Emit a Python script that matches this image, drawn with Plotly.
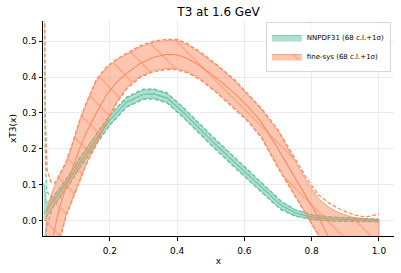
import plotly.graph_objects as go

# ---------------- data ----------------
nn_x = [0.004, 0.008, 0.012, 0.03, 0.05, 0.08, 0.11, 0.15, 0.2, 0.25, 0.3, 0.33, 0.37, 0.42,
        0.47, 0.52, 0.56, 0.6, 0.65, 0.69, 0.71, 0.75, 0.8, 0.85, 0.9, 0.95, 1.0]
nn_cv = [0.02, 0.025, 0.03, 0.05, 0.075, 0.115, 0.16, 0.215, 0.28, 0.33, 0.352, 0.353, 0.342, 0.3,
         0.253, 0.207, 0.172, 0.137, 0.093, 0.06, 0.042, 0.022, 0.01, 0.005, 0.003, 0.002, 0.001]
nn_up68 = [0.105, 0.075, 0.05, 0.063, 0.087, 0.127, 0.172, 0.227, 0.292, 0.342, 0.364, 0.365, 0.354, 0.312,
           0.265, 0.219, 0.184, 0.149, 0.105, 0.072, 0.052, 0.03, 0.016, 0.01, 0.007, 0.005, 0.004]
nn_lo68 = [0.0, 0.0, 0.01, 0.038, 0.063, 0.103, 0.148, 0.203, 0.268, 0.318, 0.34, 0.341, 0.33, 0.288,
           0.241, 0.195, 0.16, 0.125, 0.081, 0.048, 0.032, 0.014, 0.004, 0.0, -0.001, -0.001, -0.002]
nn_up1s = [1.0, 0.2, 0.08, 0.065, 0.089, 0.129, 0.174, 0.229, 0.294, 0.344, 0.366, 0.367, 0.356, 0.314,
           0.267, 0.221, 0.186, 0.151, 0.107, 0.074, 0.054, 0.031, 0.017, 0.011, 0.008, 0.006, 0.005]
nn_lo1s = [-1.0, -0.1, -0.02, 0.036, 0.061, 0.101, 0.146, 0.201, 0.266, 0.316, 0.338, 0.339, 0.328, 0.286,
           0.239, 0.193, 0.158, 0.123, 0.079, 0.046, 0.03, 0.013, 0.003, -0.001, -0.002, -0.002, -0.003]

fs_x = [0.004, 0.008, 0.014, 0.025, 0.037, 0.05, 0.07, 0.09, 0.11, 0.13, 0.16, 0.19, 0.22, 0.25,
        0.29, 0.33, 0.37, 0.4, 0.43, 0.47, 0.52, 0.57, 0.61, 0.65, 0.7, 0.75, 0.785, 0.82, 0.85,
        0.88, 0.92, 0.96, 1.0]
fs_cv = [-0.35, -0.25, -0.16, -0.07, -0.015, 0.035, 0.095, 0.15, 0.2, 0.245, 0.3, 0.35, 0.385, 0.41,
         0.438, 0.455, 0.463, 0.462, 0.452, 0.43, 0.395, 0.355, 0.318, 0.275, 0.2, 0.12, 0.065, 0.01,
         -0.045, -0.08, -0.11, -0.13, -0.15]
fs_up68 = [-0.12, -0.04, 0.035, 0.07, 0.1, 0.125, 0.16, 0.215, 0.275, 0.325, 0.39, 0.425, 0.447, 0.463,
           0.484, 0.497, 0.502, 0.502, 0.49, 0.466, 0.43, 0.39, 0.35, 0.31, 0.25, 0.17, 0.11, 0.062,
           0.038, 0.022, 0.01, 0.005, 0.002]
fs_lo68 = [-0.6, -0.5, -0.38, -0.22, -0.12, -0.05, 0.015, 0.065, 0.11, 0.16, 0.215, 0.275, 0.33, 0.37,
           0.402, 0.418, 0.424, 0.423, 0.415, 0.395, 0.357, 0.315, 0.28, 0.235, 0.15, 0.072, 0.015,
           -0.04, -0.09, -0.13, -0.17, -0.21, -0.25]
fs_up1s = [1.0, 0.3, 0.14, 0.108, 0.105, 0.127, 0.163, 0.218, 0.278, 0.328, 0.393, 0.428, 0.45, 0.466,
           0.487, 0.5, 0.505, 0.505, 0.493, 0.469, 0.433, 0.393, 0.353, 0.313, 0.253, 0.175, 0.118,
           0.072, 0.05, 0.034, 0.018, 0.01, 0.018]
fs_lo1s = [-1.0, -0.8, -0.5, -0.3, -0.16, -0.06, 0.012, 0.062, 0.107, 0.157, 0.212, 0.272, 0.327, 0.367,
           0.399, 0.415, 0.421, 0.42, 0.412, 0.392, 0.354, 0.312, 0.277, 0.232, 0.147, 0.069, 0.012,
           -0.043, -0.093, -0.133, -0.173, -0.213, -0.253]

x_ticks = [0.2, 0.4, 0.6, 0.8, 1.0]
y_ticks = [0.0, 0.1, 0.2, 0.3, 0.4, 0.5]

series = [
    dict(name="NNPDF31 (68 c.l.+1σ)", x=nn_x, cv=nn_cv, up=nn_up68, lo=nn_lo68, u1=nn_up1s, l1=nn_lo1s,
         color="#66c2a5", fill="rgba(102,194,165,0.5)", shape="/", size=5),
    dict(name="fine-sys (68 c.l.+1σ)", x=fs_x, cv=fs_cv, up=fs_up68, lo=fs_lo68, u1=fs_up1s, l1=fs_lo1s,
         color="#fc8d62", fill="rgba(252,141,98,0.5)", shape="\\", size=20),
]

fig = go.Figure()
for i, s in enumerate(series):
    g = f"g{i}"
    fig.add_trace(go.Scatter(
        x=s["x"] + s["x"][::-1], y=s["up"] + s["lo"][::-1],
        fill="toself", fillcolor=s["fill"], mode="lines",
        line=dict(color=s["color"], width=0.8),
        fillpattern=dict(shape=s["shape"], size=s["size"], solidity=0.08,
                         fgcolor=s["color"], bgcolor=s["fill"]),
        name=s["name"], legendgroup=g, hoverinfo="skip"))
    fig.add_trace(go.Scatter(x=s["x"], y=s["cv"], mode="lines",
                             line=dict(color=s["color"], width=1.1),
                             showlegend=False, legendgroup=g, hoverinfo="skip"))
    for key in ("u1", "l1"):
        fig.add_trace(go.Scatter(x=s["x"], y=s[key], mode="lines",
                                 line=dict(color=s["color"], width=1.3, dash="4px,2px"),
                                 showlegend=False, legendgroup=g, hoverinfo="skip"))

font = "DejaVu Sans"
fig.update_layout(
    width=401, height=273,
    margin=dict(l=43, r=7, t=21, b=37, autoexpand=False),
    paper_bgcolor="white", plot_bgcolor="white",
    font=dict(family=font, size=9, color="black"),
    title=dict(text="T3 at 1.6 GeV", x=0.545, xanchor="center", y=0.955, yanchor="middle",
               yref="container", font=dict(size=12, family=font)),
    showlegend=True,
    legend=dict(x=0.991, y=0.995, xanchor="right", yanchor="top",
                bgcolor="rgba(255,255,255,0.8)", bordercolor="#d6d6d6", borderwidth=1,
                font=dict(size=7, family=font), itemwidth=30, tracegroupgap=0),
)
fig.update_xaxes(range=[0.0015, 1.0446], tickvals=x_ticks, ticktext=[f"{v:.1f}" for v in x_ticks],
                 showgrid=True, gridcolor="#ebebeb", gridwidth=0.8, zeroline=False, automargin=False,
                 showline=True, linecolor="black", linewidth=1,
                 ticks="outside", ticklen=3.5, tickwidth=0.8, tickcolor="black",
                 ticklabelstandoff=3,
                 title=dict(text="x", font=dict(size=9), standoff=2))
fig.update_yaxes(range=[-0.0426, 0.556], tickvals=y_ticks, ticktext=[f"{v:.1f}" for v in y_ticks],
                 showgrid=True, gridcolor="#ebebeb", gridwidth=0.8, zeroline=False, automargin=False,
                 showline=True, linecolor="black", linewidth=1,
                 ticks="outside", ticklen=3.5, tickwidth=0.8, tickcolor="black",
                 title=dict(text="xT3(x)", font=dict(size=9), standoff=4))

fig.write_html("out.html", config={"displayModeBar": False},
               post_script="document.body.style.margin='0';")
